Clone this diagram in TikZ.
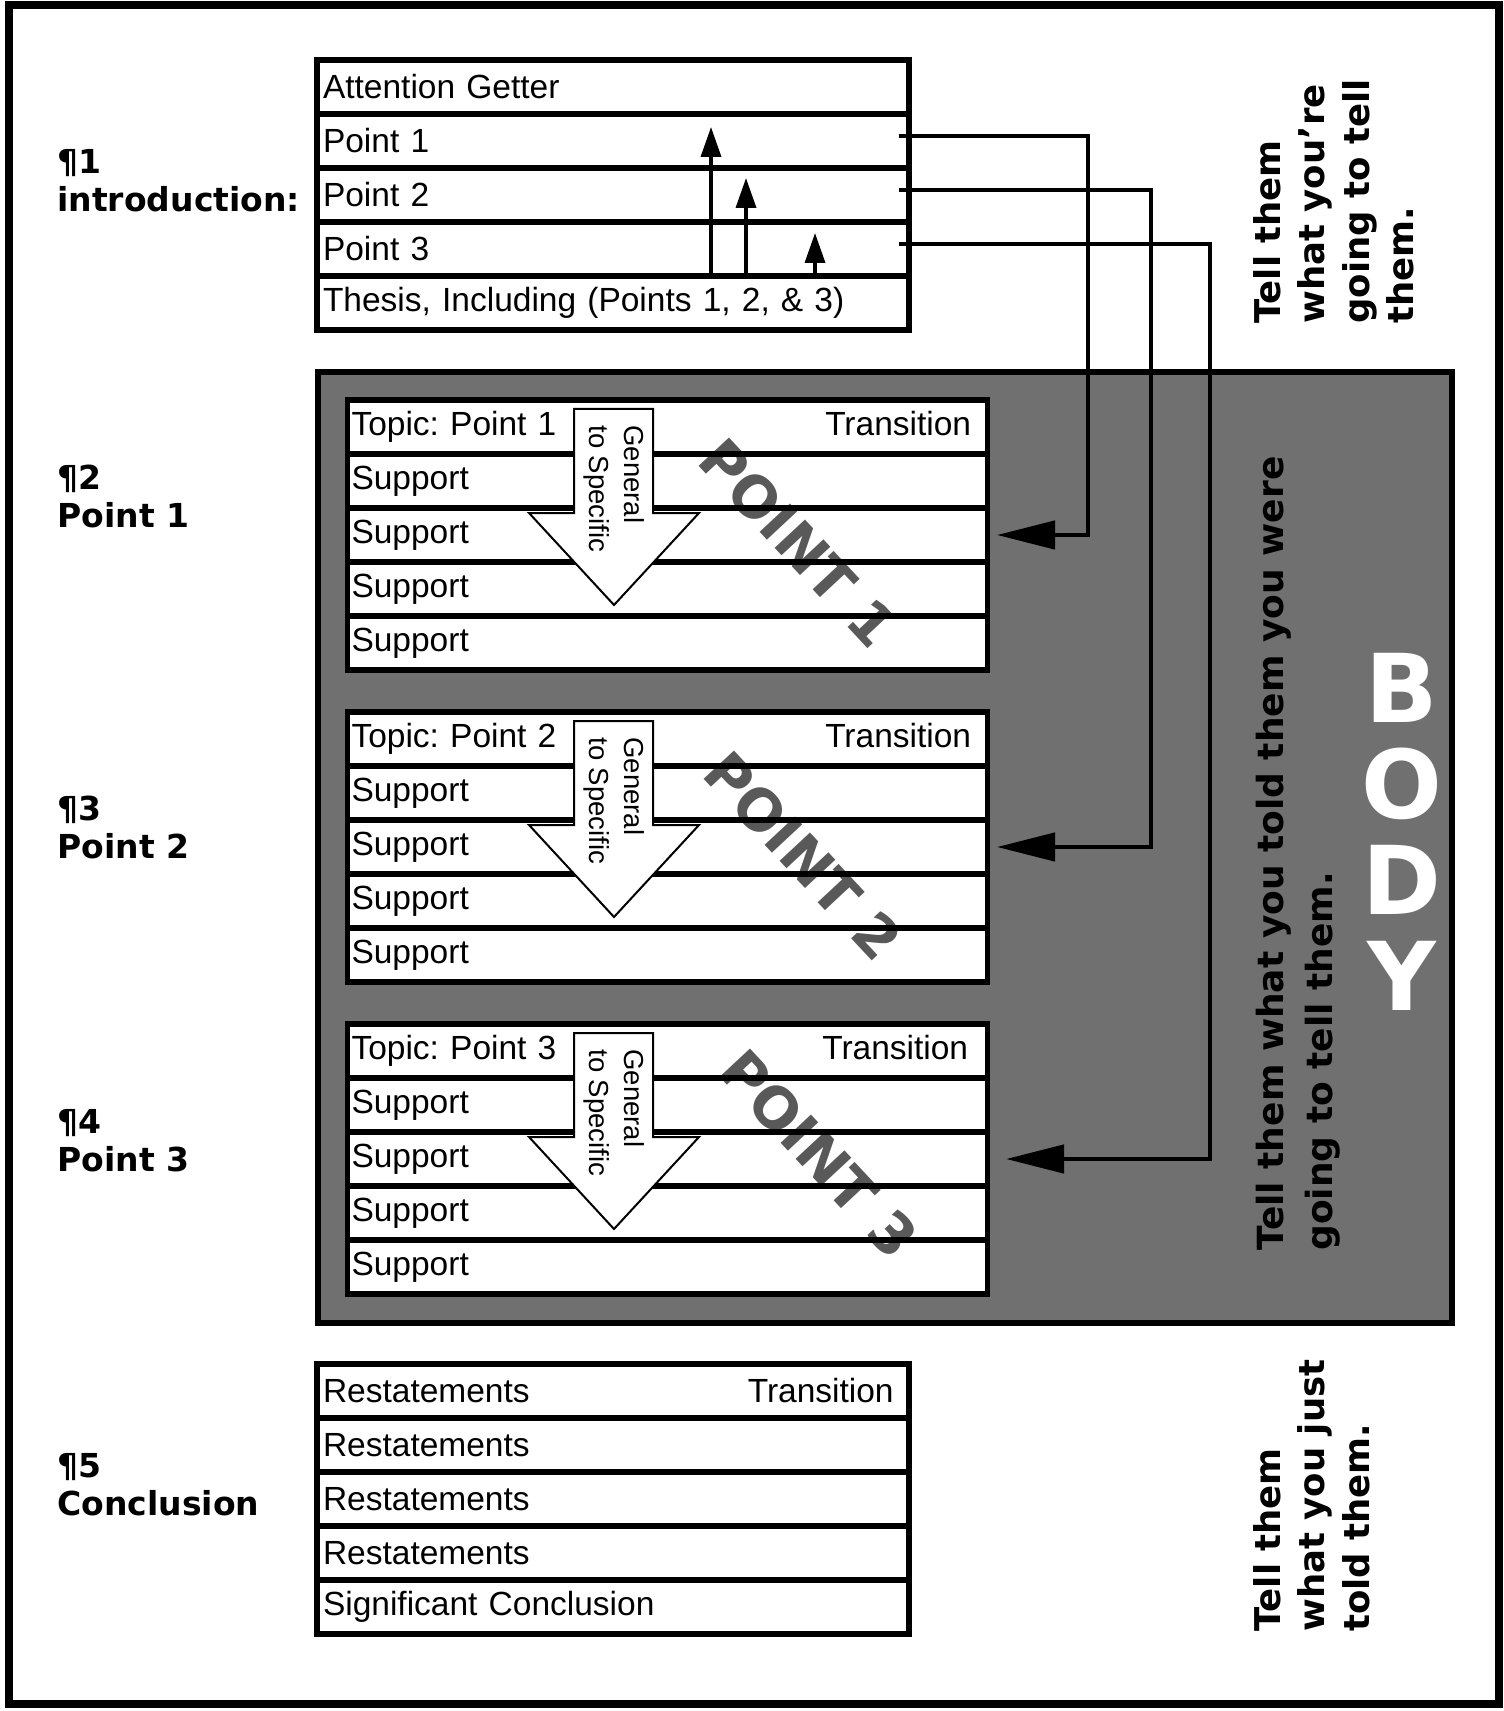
\documentclass[tikz,border=0pt]{standalone}
\usepackage{fontspec}
\setmainfont{Liberation Sans}
\newfontfamily\heavyfamily{DejaVu Sans}
\usepackage{xcolor}
\usetikzlibrary{arrows.meta,positioning,calc,backgrounds}
\definecolor{bodygray}{gray}{0.44}
\definecolor{pointgray}{gray}{0.35}
\newcommand{\rowfont}{\fontsize{16.75pt}{19pt}\selectfont}
\newcommand{\gsfont}{\fontsize{13.75pt}{17.5pt}\selectfont}
\newcommand{\lblfont}{\heavyfamily\bfseries\fontsize{16.5pt}{19pt}\selectfont}
\newcommand{\tellfont}{\heavyfamily\bfseries\fontsize{17.75pt}{22.2pt}\selectfont}
\newcommand{\midfont}{\heavyfamily\bfseries\fontsize{18pt}{24.5pt}\selectfont}
\newcommand{\pointfont}{\heavyfamily\bfseries\fontsize{28.5pt}{28.5pt}\selectfont}
\newcommand{\bodyfont}{\heavyfamily\bfseries\fontsize{47.5pt}{48pt}\selectfont}

\begin{document}
\frenchspacing
\begin{tikzpicture}[
  x=0.5pt, y=-0.5pt,
  introrow/.style={draw,line width=2.6pt,outer sep=0pt,inner xsep=3pt,inner ysep=0pt,minimum height=27pt,text width=290pt,align=left,font=\rowfont},
  pointrow/.style={introrow,inner xsep=2pt,text width=316pt},
  trans/.style={anchor=base east,inner sep=0pt,font=\rowfont},
  lbl/.style={anchor=west,align=left,inner sep=0pt,font=\lblfont},
  tell/.style={rotate=90,anchor=north west,align=left,inner sep=0pt,font=\tellfont},
  pointmark/.style={rotate=-47,inner sep=0pt,text=pointgray,font=\pointfont},
  link/.style={line width=2.25pt,-{Triangle[length=29pt,width=14pt]}},
  uparrow/.style={line width=1.75pt,-{Triangle[length=15pt,width=10pt]}},
  gsarrow/.pic={
    \draw[line width=1pt,fill=white] (226.5,9) -- (305.5,9) -- (305.5,113) -- (351.5,113)
      -- (266.5,205) -- (181.5,113) -- (226.5,113) -- cycle;
    \node[rotate=-90,anchor=west,align=left,inner sep=0pt,font=\gsfont] (-text) at (267,25) {General\\to Specific};
  }
]
\useasboundingbox (0,0) rectangle (1503,1711);
\draw[line width=4pt] (9,5) rectangle (1499,1704);

% introduction
\node[introrow,anchor=north west] (ag) at (317,60) {Attention Getter};
\node[introrow,below=0pt of ag] (ip1) {Point 1};
\node[introrow,below=0pt of ip1] (ip2) {Point 2};
\node[introrow,below=0pt of ip2] (ip3) {Point 3};
\node[introrow,below=0pt of ip3] (th) {Thesis, Including (Points 1, 2, \& 3)};

% body paragraphs
\node[pointrow,anchor=north west] (p1t) at (347.5,400) {Topic: Point 1};
\node[pointrow,below=0pt of p1t] (p1s1) {Support};
\node[pointrow,below=0pt of p1s1] (p1s2) {Support};
\node[pointrow,below=0pt of p1s2] (p1s3) {Support};
\node[pointrow,below=0pt of p1s3] (p1s4) {Support};
\node[trans] (p1tr) at ([xshift=-8pt]p1t.base east) {Transition};

\node[pointrow,anchor=north west] (p2t) at (347.5,712) {Topic: Point 2};
\node[pointrow,below=0pt of p2t] (p2s1) {Support};
\node[pointrow,below=0pt of p2s1] (p2s2) {Support};
\node[pointrow,below=0pt of p2s2] (p2s3) {Support};
\node[pointrow,below=0pt of p2s3] (p2s4) {Support};
\node[trans] (p2tr) at ([xshift=-8pt]p2t.base east) {Transition};

\node[pointrow,anchor=north west] (p3t) at (347.5,1024) {Topic: Point 3};
\node[pointrow,below=0pt of p3t] (p3s1) {Support};
\node[pointrow,below=0pt of p3s1] (p3s2) {Support};
\node[pointrow,below=0pt of p3s2] (p3s3) {Support};
\node[pointrow,below=0pt of p3s3] (p3s4) {Support};
\node[trans] (p3tr) at ([xshift=-9.5pt]p3t.base east) {Transition};

\pic (gs1) at (p1t.north west) {gsarrow};
\pic (gs2) at (p2t.north west) {gsarrow};
\pic (gs3) at (p3t.north west) {gsarrow};

% conclusion
\node[introrow,anchor=north west] (cr1) at (317,1364) {Restatements};
\node[introrow,below=0pt of cr1] (cr2) {Restatements};
\node[introrow,below=0pt of cr2] (cr3) {Restatements};
\node[introrow,below=0pt of cr3] (cr4) {Restatements};
\node[introrow,below=0pt of cr4] (sc) {Significant Conclusion};
\node[trans] (crtr) at ([xshift=-7.5pt]cr1.base east) {Transition};

% paragraph labels
\node[lbl] (lab1) at (57,181) {¶1\\introduction:};
\node[lbl] (lab2) at (57,496) {¶2\\Point 1};
\node[lbl] (lab3) at (57,827) {¶3\\Point 2};
\node[lbl] (lab4) at (57,1141) {¶4\\Point 3};
\node[lbl] (lab5) at (57,1485) {¶5\\Conclusion};

% side notes
\node[tell] (tellfore) at (1253,324) {Tell them\\what you’re\\going to tell\\them.};
\node[tell,font=\midfont] (tellbody) at (1256,1251) {Tell them what you told them you were\\going to tell them.};
\node[tell] (tellafter) at (1253,1632) {Tell them\\what you just\\told them.};
\node[align=center,inner sep=0pt,text=white,font=\bodyfont] (body) at (1402,832) {B\\O\\D\\Y};

% thesis points and links
\draw[uparrow] ($(th.north west)+(394,0)$) -- ($(ip1.west)+(394,-14)$);
\draw[uparrow] ($(th.north west)+(429,0)$) -- ($(ip2.west)+(429,-17)$);
\draw[uparrow] ($(th.north west)+(498,0)$) -- ($(ip3.west)+(498,-16)$);
\draw[link] ([shift={(-5.25pt,2.5pt)}]ip1.east) -| (1088,0 |- p1s2.east) -- ([xshift=4.75pt]p1s2.east);
\draw[link] ([shift={(-5.25pt,2.5pt)}]ip2.east) -| (1151,0 |- p2s2.east) -- ([xshift=4.75pt]p2s2.east);
\draw[link] ([shift={(-5.25pt,2.5pt)}]ip3.east) -| (1210,0 |- p3s2.east) -- ([xshift=9.25pt]p3s2.east);

\begin{scope}[on background layer]
  \draw[line width=3pt,fill=bodygray] (318,372) rectangle (1452,1323);
  \fill[white] (p1t.north west) rectangle (p1s4.south east);
  \fill[white] (p2t.north west) rectangle (p2s4.south east);
  \fill[white] (p3t.north west) rectangle (p3s4.south east);
  \node[pointmark] (pt1) at (798,543) {POINT 1};
  \node[pointmark] (pt2) at (803,856) {POINT 2};
  \node[pointmark] (pt3) at (819,1154) {POINT 3};
\end{scope}
\end{tikzpicture}
\end{document}
